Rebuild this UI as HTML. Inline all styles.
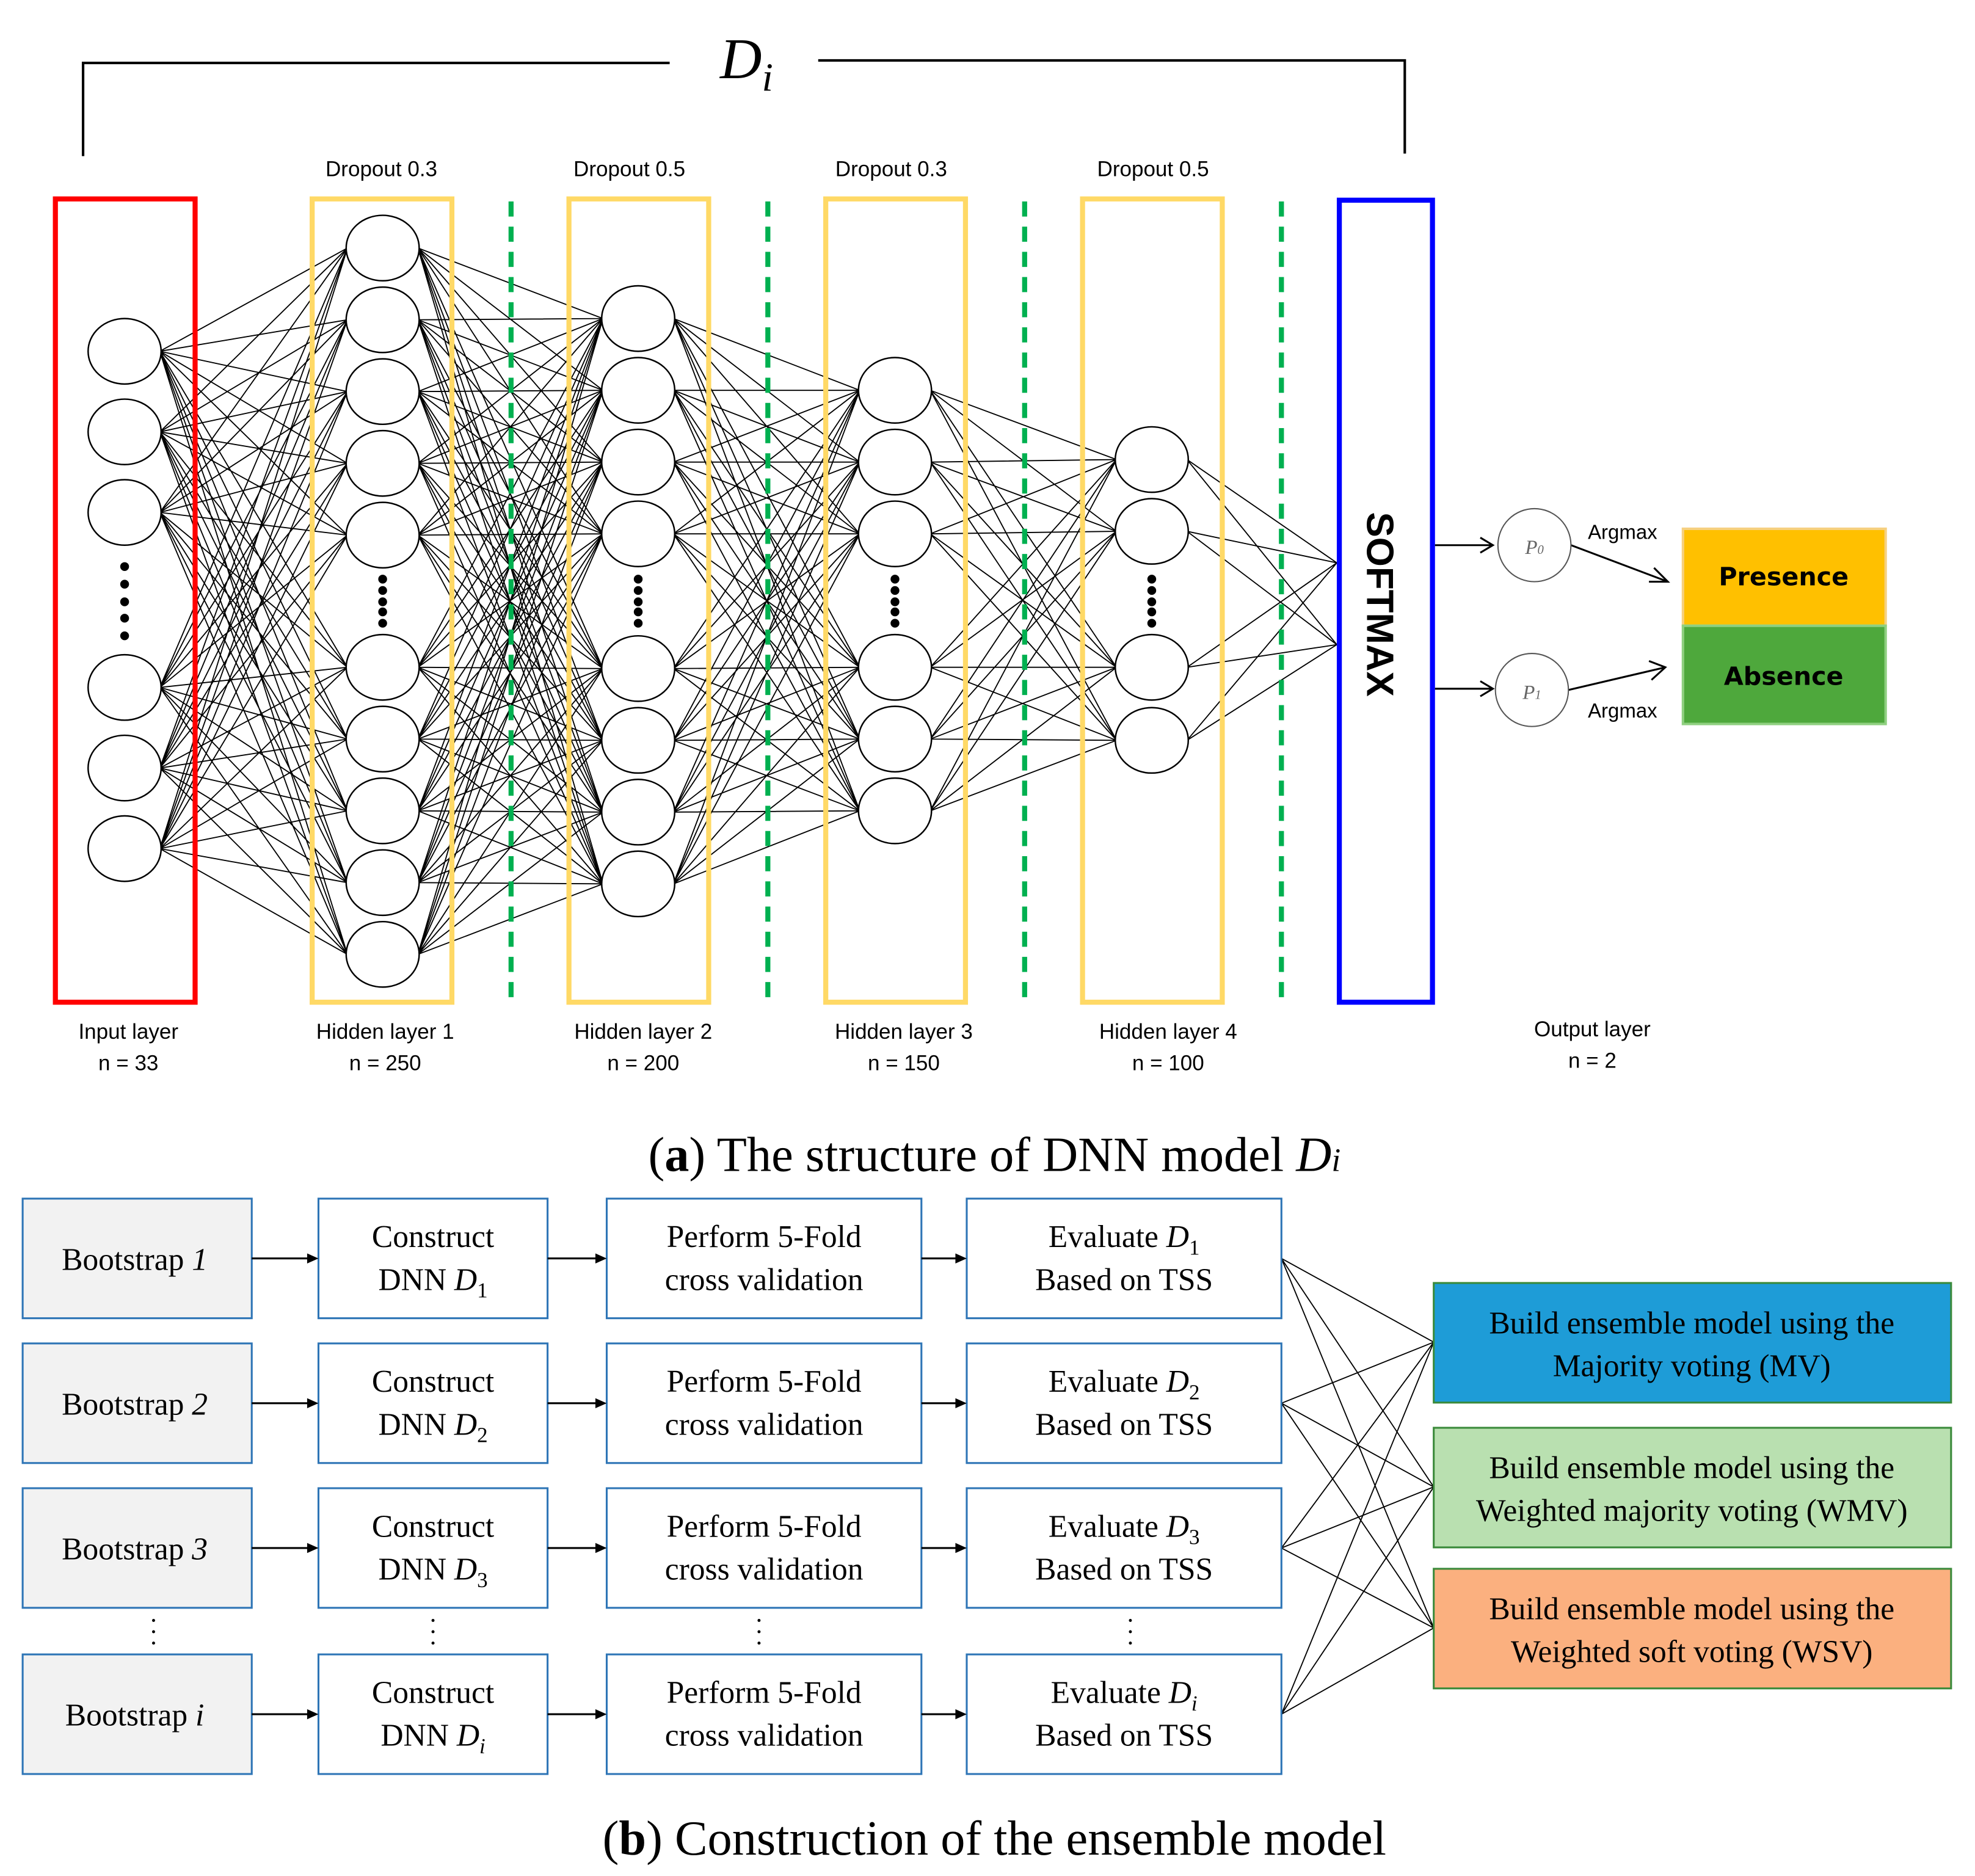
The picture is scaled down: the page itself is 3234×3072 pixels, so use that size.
<!DOCTYPE html>
<html><head><meta charset="utf-8"><style>html,body{margin:0;padding:0;background:#fff}svg{display:block}</style></head><body>
<svg width="3234" height="3072" viewBox="0 0 1569 1490" preserveAspectRatio="none" xmlns="http://www.w3.org/2000/svg">
<g stroke="#000" stroke-width="0.9" fill="none">
<path d="M127 279L276 197M127 279L276 254M127 279L276 311M127 279L276 368M127 279L276 425M127 279L276 530M127 279L276 587M127 279L276 644M127 279L276 701M127 279L276 758
M127 343L276 197M127 343L276 254M127 343L276 311M127 343L276 368M127 343L276 425M127 343L276 530M127 343L276 587M127 343L276 644M127 343L276 701M127 343L276 758
M127 407L276 197M127 407L276 254M127 407L276 311M127 407L276 368M127 407L276 425M127 407L276 530M127 407L276 587M127 407L276 644M127 407L276 701M127 407L276 758
M127 546L276 197M127 546L276 254M127 546L276 311M127 546L276 368M127 546L276 425M127 546L276 530M127 546L276 587M127 546L276 644M127 546L276 701M127 546L276 758
M127 610L276 197M127 610L276 254M127 610L276 311M127 610L276 368M127 610L276 425M127 610L276 530M127 610L276 587M127 610L276 644M127 610L276 701M127 610L276 758
M127 674L276 197M127 674L276 254M127 674L276 311M127 674L276 368M127 674L276 425M127 674L276 530M127 674L276 587M127 674L276 644M127 674L276 701M127 674L276 758"/>
<path d="M332 197L479 253M332 197L479 310M332 197L479 367M332 197L479 424M332 197L479 531M332 197L479 588M332 197L479 645M332 197L479 702
M332 254L479 253M332 254L479 310M332 254L479 367M332 254L479 424M332 254L479 531M332 254L479 588M332 254L479 645M332 254L479 702
M332 311L479 253M332 311L479 310M332 311L479 367M332 311L479 424M332 311L479 531M332 311L479 588M332 311L479 645M332 311L479 702
M332 368L479 253M332 368L479 310M332 368L479 367M332 368L479 424M332 368L479 531M332 368L479 588M332 368L479 645M332 368L479 702
M332 425L479 253M332 425L479 310M332 425L479 367M332 425L479 424M332 425L479 531M332 425L479 588M332 425L479 645M332 425L479 702
M332 530L479 253M332 530L479 310M332 530L479 367M332 530L479 424M332 530L479 531M332 530L479 588M332 530L479 645M332 530L479 702
M332 587L479 253M332 587L479 310M332 587L479 367M332 587L479 424M332 587L479 531M332 587L479 588M332 587L479 645M332 587L479 702
M332 644L479 253M332 644L479 310M332 644L479 367M332 644L479 424M332 644L479 531M332 644L479 588M332 644L479 645M332 644L479 702
M332 701L479 253M332 701L479 310M332 701L479 367M332 701L479 424M332 701L479 531M332 701L479 588M332 701L479 645M332 701L479 702
M332 758L479 253M332 758L479 310M332 758L479 367M332 758L479 424M332 758L479 531M332 758L479 588M332 758L479 645M332 758L479 702"/>
<path d="M535 253L683 310M535 253L683 367M535 253L683 424M535 253L683 530M535 253L683 587M535 253L683 644
M535 310L683 310M535 310L683 367M535 310L683 424M535 310L683 530M535 310L683 587M535 310L683 644
M535 367L683 310M535 367L683 367M535 367L683 424M535 367L683 530M535 367L683 587M535 367L683 644
M535 424L683 310M535 424L683 367M535 424L683 424M535 424L683 530M535 424L683 587M535 424L683 644
M535 531L683 310M535 531L683 367M535 531L683 424M535 531L683 530M535 531L683 587M535 531L683 644
M535 588L683 310M535 588L683 367M535 588L683 424M535 588L683 530M535 588L683 587M535 588L683 644
M535 645L683 310M535 645L683 367M535 645L683 424M535 645L683 530M535 645L683 587M535 645L683 644
M535 702L683 310M535 702L683 367M535 702L683 424M535 702L683 530M535 702L683 587M535 702L683 644"/>
<path d="M739 310L887 365M739 310L887 422M739 310L887 530M739 310L887 588
M739 367L887 365M739 367L887 422M739 367L887 530M739 367L887 588
M739 424L887 365M739 424L887 422M739 424L887 530M739 424L887 588
M739 530L887 365M739 530L887 422M739 530L887 530M739 530L887 588
M739 587L887 365M739 587L887 422M739 587L887 530M739 587L887 588
M739 644L887 365M739 644L887 422M739 644L887 530M739 644L887 588"/>
<path d="M943 365L1062 447M943 365L1062 512M943 422L1062 447M943 422L1062 512M943 530L1062 447M943 530L1062 512M943 588L1062 447M943 588L1062 512"/>
</g>
<path d="M66 124 V50 H532 M650 48 H1116 V122" stroke="#000" stroke-width="2" fill="none"/>
<text x="572" y="62" font-family="Liberation Serif,serif" font-style="italic" font-size="46">D<tspan font-size="32" dy="10">i</tspan></text>
<g font-family="Liberation Sans,sans-serif" font-size="17" text-anchor="middle">
<text x="303" y="140">Dropout 0.3</text><text x="500" y="140">Dropout 0.5</text>
<text x="708" y="140">Dropout 0.3</text><text x="916" y="140">Dropout 0.5</text>
<text x="102" y="825">Input layer</text><text x="102" y="850">n = 33</text>
<text x="306" y="825">Hidden layer 1</text><text x="306" y="850">n = 250</text>
<text x="511" y="825">Hidden layer 2</text><text x="511" y="850">n = 200</text>
<text x="718" y="825">Hidden layer 3</text><text x="718" y="850">n = 150</text>
<text x="928" y="825">Hidden layer 4</text><text x="928" y="850">n = 100</text>
<text x="1265" y="823">Output layer</text><text x="1265" y="848">n = 2</text>
<text x="1289" y="428" font-size="16">Argmax</text><text x="1289" y="570" font-size="16">Argmax</text>
</g>
<rect x="44" y="158" width="111" height="638" fill="none" stroke="#f00" stroke-width="4"/>
<g fill="none" stroke="#ffd966" stroke-width="4">
<rect x="248" y="158" width="111" height="638"/><rect x="452" y="158" width="111" height="638"/>
<rect x="656" y="158" width="111" height="638"/><rect x="860" y="158" width="111" height="638"/></g>
<g stroke="#00b050" stroke-width="4" stroke-dasharray="12 8">
<line x1="406" y1="160" x2="406" y2="796"/><line x1="610" y1="160" x2="610" y2="796"/>
<line x1="814" y1="160" x2="814" y2="796"/><line x1="1018" y1="160" x2="1018" y2="796"/></g>
<g fill="#fff" stroke="#000" stroke-width="1.2">
<ellipse cx="99" cy="279" rx="29" ry="26"/><ellipse cx="99" cy="343" rx="29" ry="26"/><ellipse cx="99" cy="407" rx="29" ry="26"/><ellipse cx="99" cy="546" rx="29" ry="26"/><ellipse cx="99" cy="610" rx="29" ry="26"/><ellipse cx="99" cy="674" rx="29" ry="26"/>
<ellipse cx="304" cy="197" rx="29" ry="26"/><ellipse cx="304" cy="254" rx="29" ry="26"/><ellipse cx="304" cy="311" rx="29" ry="26"/><ellipse cx="304" cy="368" rx="29" ry="26"/><ellipse cx="304" cy="425" rx="29" ry="26"/><ellipse cx="304" cy="530" rx="29" ry="26"/><ellipse cx="304" cy="587" rx="29" ry="26"/><ellipse cx="304" cy="644" rx="29" ry="26"/><ellipse cx="304" cy="701" rx="29" ry="26"/><ellipse cx="304" cy="758" rx="29" ry="26"/>
<ellipse cx="507" cy="253" rx="29" ry="26"/><ellipse cx="507" cy="310" rx="29" ry="26"/><ellipse cx="507" cy="367" rx="29" ry="26"/><ellipse cx="507" cy="424" rx="29" ry="26"/><ellipse cx="507" cy="531" rx="29" ry="26"/><ellipse cx="507" cy="588" rx="29" ry="26"/><ellipse cx="507" cy="645" rx="29" ry="26"/><ellipse cx="507" cy="702" rx="29" ry="26"/>
<ellipse cx="711" cy="310" rx="29" ry="26"/><ellipse cx="711" cy="367" rx="29" ry="26"/><ellipse cx="711" cy="424" rx="29" ry="26"/><ellipse cx="711" cy="530" rx="29" ry="26"/><ellipse cx="711" cy="587" rx="29" ry="26"/><ellipse cx="711" cy="644" rx="29" ry="26"/>
<ellipse cx="915" cy="365" rx="29" ry="26"/><ellipse cx="915" cy="422" rx="29" ry="26"/><ellipse cx="915" cy="530" rx="29" ry="26"/><ellipse cx="915" cy="588" rx="29" ry="26"/>
</g>
<g fill="#000">
<circle cx="99" cy="450" r="3.5"/><circle cx="99" cy="464" r="3.5"/><circle cx="99" cy="478" r="3.5"/><circle cx="99" cy="491" r="3.5"/><circle cx="99" cy="505" r="3.5"/>
<circle cx="304" cy="460" r="3.5"/><circle cx="304" cy="469" r="3.5"/><circle cx="304" cy="478" r="3.5"/><circle cx="304" cy="486" r="3.5"/><circle cx="304" cy="495" r="3.5"/>
<circle cx="507" cy="460" r="3.5"/><circle cx="507" cy="469" r="3.5"/><circle cx="507" cy="478" r="3.5"/><circle cx="507" cy="486" r="3.5"/><circle cx="507" cy="495" r="3.5"/>
<circle cx="711" cy="460" r="3.5"/><circle cx="711" cy="469" r="3.5"/><circle cx="711" cy="478" r="3.5"/><circle cx="711" cy="486" r="3.5"/><circle cx="711" cy="495" r="3.5"/>
<circle cx="915" cy="460" r="3.5"/><circle cx="915" cy="469" r="3.5"/><circle cx="915" cy="478" r="3.5"/><circle cx="915" cy="486" r="3.5"/><circle cx="915" cy="495" r="3.5"/>
</g>
<rect x="1064" y="159" width="74" height="637" fill="#fff" stroke="#00f" stroke-width="4"/>
<text transform="translate(1086,480) rotate(90)" font-family="Liberation Sans,sans-serif" font-weight="bold" font-size="30" text-anchor="middle">SOFTMAX</text>
<g stroke="#000" stroke-width="1.5" fill="none">
<path d="M1140 433 H1186 M1176 427 L1186 433 L1176 439"/>
<path d="M1140 547 H1186 M1176 541 L1186 547 L1176 553"/>
<path d="M1248 433 L1325 462 M1310 462 L1325 462 L1314 451"/>
<path d="M1246 548 L1323 530 M1310 525 L1323 530 L1312 540"/>
</g>
<circle cx="1219" cy="433" r="29" fill="#fff" stroke="#555"/>
<circle cx="1217" cy="548" r="29" fill="#fff" stroke="#555"/>
<text x="1219" y="440" font-family="Liberation Serif,serif" font-style="italic" font-size="16" text-anchor="middle" fill="#666">P<tspan font-size="10">0</tspan></text>
<text x="1217" y="555" font-family="Liberation Serif,serif" font-style="italic" font-size="16" text-anchor="middle" fill="#666">P<tspan font-size="10">1</tspan></text>
<rect x="1337" y="420" width="161" height="77" fill="#ffc000" stroke="#f6d080" stroke-width="2"/>
<rect x="1337" y="497" width="161" height="78" fill="#4ea83c" stroke="#8fd080" stroke-width="2"/>
<g font-family="DejaVu Sans,sans-serif" font-weight="bold" font-size="20" text-anchor="middle">
<text x="1417" y="465">Presence</text><text x="1417" y="544">Absence</text></g>
<text x="790" y="930" font-family="Liberation Serif,serif" font-size="39" text-anchor="middle">(<tspan font-weight="bold">a</tspan>) The structure of DNN model <tspan font-style="italic">D</tspan><tspan font-style="italic" font-size="26">i</tspan></text>

<g stroke="#000" stroke-width="0.9">
<path d="M1018 999.5L1139 1066M1018 999.5L1139 1181M1018 999.5L1139 1293
M1018 1114.5L1139 1066M1018 1114.5L1139 1181M1018 1114.5L1139 1293
M1018 1229.5L1139 1066M1018 1229.5L1139 1181M1018 1229.5L1139 1293
M1018 1361.5L1139 1066M1018 1361.5L1139 1181M1018 1361.5L1139 1293"/>
</g>
<g stroke="#2e75b6" stroke-width="1.5" fill="#fff">
<rect x="18" y="952" width="182" height="95" fill="#f2f2f2"/><rect x="253" y="952" width="182" height="95"/><rect x="482" y="952" width="250" height="95"/><rect x="768" y="952" width="250" height="95"/>
<rect x="18" y="1067" width="182" height="95" fill="#f2f2f2"/><rect x="253" y="1067" width="182" height="95"/><rect x="482" y="1067" width="250" height="95"/><rect x="768" y="1067" width="250" height="95"/>
<rect x="18" y="1182" width="182" height="95" fill="#f2f2f2"/><rect x="253" y="1182" width="182" height="95"/><rect x="482" y="1182" width="250" height="95"/><rect x="768" y="1182" width="250" height="95"/>
<rect x="18" y="1314" width="182" height="95" fill="#f2f2f2"/><rect x="253" y="1314" width="182" height="95"/><rect x="482" y="1314" width="250" height="95"/><rect x="768" y="1314" width="250" height="95"/>
</g>
<g stroke="#000" stroke-width="1.5">
<path d="M200 999.5H246M435 999.5H475M732 999.5H761M200 1114.5H246M435 1114.5H475M732 1114.5H761M200 1229.5H246M435 1229.5H475M732 1229.5H761M200 1361.5H246M435 1361.5H475M732 1361.5H761"/>
</g>
<g fill="#000">
<path d="M244 995.5L253 999.5L244 1003.5ZM473 995.5L482 999.5L473 1003.5ZM759 995.5L768 999.5L759 1003.5Z"/>
<path d="M244 1110.5L253 1114.5L244 1118.5ZM473 1110.5L482 1114.5L473 1118.5ZM759 1110.5L768 1114.5L759 1118.5Z"/>
<path d="M244 1225.5L253 1229.5L244 1233.5ZM473 1225.5L482 1229.5L473 1233.5ZM759 1225.5L768 1229.5L759 1233.5Z"/>
<path d="M244 1357.5L253 1361.5L244 1365.5ZM473 1357.5L482 1361.5L473 1365.5ZM759 1357.5L768 1361.5L759 1365.5Z"/>
<circle cx="122" cy="1287" r="1.2"/><circle cx="122" cy="1296" r="1.2"/><circle cx="122" cy="1305" r="1.2"/>
<circle cx="344" cy="1287" r="1.2"/><circle cx="344" cy="1296" r="1.2"/><circle cx="344" cy="1305" r="1.2"/>
<circle cx="603" cy="1287" r="1.2"/><circle cx="603" cy="1296" r="1.2"/><circle cx="603" cy="1305" r="1.2"/>
<circle cx="898" cy="1287" r="1.2"/><circle cx="898" cy="1296" r="1.2"/><circle cx="898" cy="1305" r="1.2"/>
</g>
<g stroke="#3a8a3a" stroke-width="1.5">
<rect x="1139" y="1019" width="411" height="95" fill="#1e9cd7"/>
<rect x="1139" y="1134" width="411" height="95" fill="#b9e0b0"/>
<rect x="1139" y="1246" width="411" height="95" fill="#fbb07f"/>
</g>
<g font-family="Liberation Serif,serif" font-size="25" text-anchor="middle">
<text x="107" y="1008.5">Bootstrap <tspan font-style="italic">1</tspan></text>
<text x="107" y="1123.5">Bootstrap <tspan font-style="italic">2</tspan></text>
<text x="107" y="1238.5">Bootstrap <tspan font-style="italic">3</tspan></text>
<text x="107" y="1370.5">Bootstrap <tspan font-style="italic">i</tspan></text>
<text x="344" y="990.5">Construct</text><text x="344" y="1024.5">DNN <tspan font-style="italic">D</tspan><tspan font-size="17" dy="6">1</tspan></text>
<text x="344" y="1105.5">Construct</text><text x="344" y="1139.5">DNN <tspan font-style="italic">D</tspan><tspan font-size="17" dy="6">2</tspan></text>
<text x="344" y="1220.5">Construct</text><text x="344" y="1254.5">DNN <tspan font-style="italic">D</tspan><tspan font-size="17" dy="6">3</tspan></text>
<text x="344" y="1352.5">Construct</text><text x="344" y="1386.5">DNN <tspan font-style="italic">D</tspan><tspan font-size="17" dy="6" font-style="italic">i</tspan></text>
<text x="607" y="990.5">Perform 5-Fold</text><text x="607" y="1024.5">cross validation</text>
<text x="607" y="1105.5">Perform 5-Fold</text><text x="607" y="1139.5">cross validation</text>
<text x="607" y="1220.5">Perform 5-Fold</text><text x="607" y="1254.5">cross validation</text>
<text x="607" y="1352.5">Perform 5-Fold</text><text x="607" y="1386.5">cross validation</text>
<text x="893" y="990.5">Evaluate <tspan font-style="italic">D</tspan><tspan font-size="17" dy="6">1</tspan></text><text x="893" y="1024.5">Based on TSS</text>
<text x="893" y="1105.5">Evaluate <tspan font-style="italic">D</tspan><tspan font-size="17" dy="6">2</tspan></text><text x="893" y="1139.5">Based on TSS</text>
<text x="893" y="1220.5">Evaluate <tspan font-style="italic">D</tspan><tspan font-size="17" dy="6">3</tspan></text><text x="893" y="1254.5">Based on TSS</text>
<text x="893" y="1352.5">Evaluate <tspan font-style="italic">D</tspan><tspan font-size="17" dy="6" font-style="italic">i</tspan></text><text x="893" y="1386.5">Based on TSS</text>
<text x="1344" y="1059">Build ensemble model using the</text><text x="1344" y="1093">Majority voting (MV)</text>
<text x="1344" y="1174">Build ensemble model using the</text><text x="1344" y="1208">Weighted majority voting (WMV)</text>
<text x="1344" y="1286">Build ensemble model using the</text><text x="1344" y="1320">Weighted soft voting (WSV)</text>
</g>
<text x="790" y="1473" font-family="Liberation Serif,serif" font-size="39" text-anchor="middle">(<tspan font-weight="bold">b</tspan>) Construction of the ensemble model</text>
</svg>
</body></html>
